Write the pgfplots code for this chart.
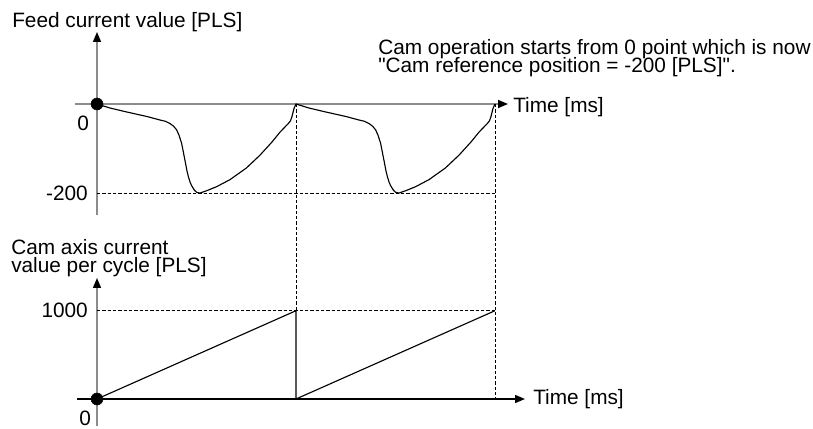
\documentclass[border=0pt]{standalone}
\usepackage{fontspec}
\setmainfont{Liberation Sans}[Ligatures=TeXOff]
\usepackage{pgfplots}
\pgfplotsset{compat=1.18}
\usetikzlibrary{arrows.meta}
\newcommand\lbl{\fontsize{15.6pt}{13.5pt}\selectfont}
\begin{document}
\begin{tikzpicture}
\useasboundingbox (0,0) rectangle (609.75pt,321pt);
\pgfplotsset{
  myax/.style={axis lines=middle, scale only axis, enlargelimits=false,
    xtick=\empty, ytick=\empty, clip=false, anchor=south west,
    xlabel={}, ylabel={},
    axis line style={line width=1.1pt, draw=gray!90},
    x axis line style={-{Triangle[length=7.5pt,width=6pt,color=black]}},
    y axis line style={-{Triangle[length=7.5pt,width=6pt,color=black]}}},
  guide/.style={black, line width=0.6pt, dash pattern=on 2.5pt off 1.5pt},
  curve/.style={black, line width=0.85pt},
}
% ---------- top axis ----------
\begin{axis}[myax, at={(56.25pt,159.75pt)}, width=324.75pt, height=137.25pt,
  xmin=-0.1106, xmax=2.0653, ymin=-249.4, ymax=161.8]
\addplot[guide] coordinates {(0,-200) (2,-200)};
\addplot[guide] coordinates {(1,0) (1,-464.5)};
\addplot[guide] coordinates {(2,0) (2,-663)};
\addplot[curve] coordinates {
 (0,0) (0.065,-9) (0.15,-18) (0.25,-28) (0.317,-36) (0.345,-39) (0.367,-44)
 (0.385,-50) (0.40,-58) (0.412,-70) (0.425,-88) (0.44,-122) (0.452,-150)
 (0.459,-163) (0.468,-176) (0.476,-184) (0.49,-194) (0.503,-199) (0.518,-200)
 (0.55,-195) (0.6,-186) (0.668,-170) (0.75,-144) (0.819,-115) (0.88,-85)
 (0.92,-63) (0.961,-44) (0.972,-38) (0.98,-28) (0.99,-10) (1,0)
 (1.065,-9) (1.15,-18) (1.25,-28) (1.317,-36) (1.345,-39) (1.367,-44)
 (1.385,-50) (1.40,-58) (1.412,-70) (1.425,-88) (1.44,-122) (1.452,-150)
 (1.459,-163) (1.468,-176) (1.476,-184) (1.49,-194) (1.503,-199) (1.518,-200)
 (1.55,-195) (1.6,-186) (1.668,-170) (1.75,-144) (1.819,-115) (1.88,-85)
 (1.92,-63) (1.961,-44) (1.972,-38) (1.98,-28) (1.99,-10) (2,0)};
\addplot[only marks, mark=*, mark size=4.5pt, black] coordinates {(0,0)};
\node[anchor=center, font=\lbl, inner sep=0pt] at (axis cs:-0.07,-42.7) {0};
\node[anchor=east, font=\lbl, inner sep=0pt] at (axis cs:-0.045,-200) {-200};
\end{axis}
% ---------- bottom axis ----------
\begin{axis}[myax, at={(57.75pt,1.5pt)}, width=336pt, height=111pt,
  xmin=-0.1005, xmax=2.1508, ymin=-305.8, ymax=1370.3,
  x axis line style={draw=black}]
\addplot[guide] coordinates {(0,1000) (2,1000)};
\addplot[curve] coordinates {(0,0) (1,1000) (1,0) (2,1000)};
\addplot[only marks, mark=*, mark size=4.5pt, black] coordinates {(0,0)};
\node[anchor=east, font=\lbl, inner sep=0pt] at (axis cs:-0.045,1000) {1000};
\node[anchor=center, font=\lbl, inner sep=0pt] at (axis cs:-0.06,-215) {0};
\end{axis}
% ---------- texts ----------
\begin{scope}[every node/.style={font=\lbl, inner sep=0pt, anchor=base west}]
\node at (9pt,300pt) {Feed current value [PLS]};
\node at (8.25pt,129.75pt) {Cam axis current};
\node at (8.25pt,116.25pt) {value per cycle [PLS]};
\node at (283.5pt,279.75pt) {Cam operation starts from 0 point which is now};
\node at (283.5pt,266.25pt) {"Cam reference position = -200 [PLS]".};
\node at (384.75pt,236.25pt) {Time [ms]};
\node at (399.75pt,17.25pt) {Time [ms]};
\end{scope}
\end{tikzpicture}
\end{document}
